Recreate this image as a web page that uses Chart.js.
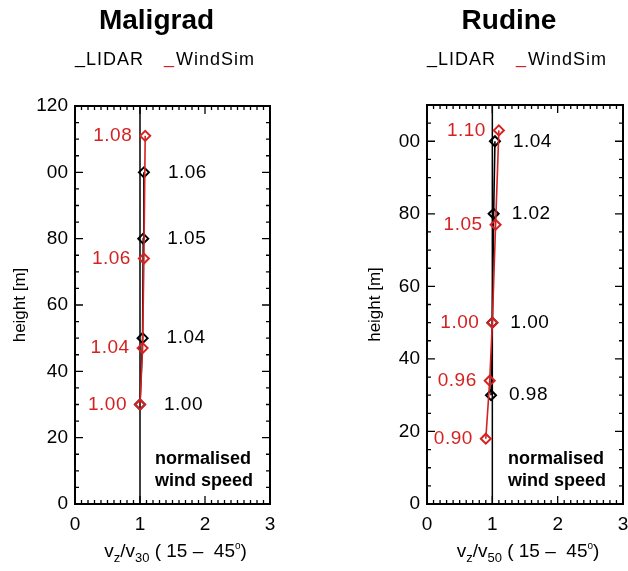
<!DOCTYPE html>
<html>
<head>
<meta charset="utf-8">
<script src="https://cdn.jsdelivr.net/npm/chart.js@4.4.0/dist/chart.umd.min.js"></script>
<style>
html, body { margin: 0; padding: 0; background: #fff; overflow: hidden; }
#wrap { position: relative; width: 628px; height: 571px; overflow: hidden; }
canvas { position: absolute; top: 0; }
#c1 { left: 0; }
#c2 { left: 314px; }
</style>
</head>
<body>
<div id="wrap">
<canvas id="c1" width="314" height="571"></canvas>
<canvas id="c2" width="330" height="571"></canvas>
</div>
<script>
// Maligrad
var maliLidarH = [30, 50, 80, 100];
var maliLidarV = [1.00, 1.04, 1.05, 1.06];
var maliSimH = [30, 47, 74, 111];
var maliSimV = [1.00, 1.04, 1.06, 1.08];

// Rudine
var rudLidarH = [30, 50, 80, 100];
var rudLidarV = [0.98, 1.00, 1.02, 1.04];
var rudSimH = [18, 34, 50, 77, 103];
var rudSimV = [0.90, 0.96, 1.00, 1.05, 1.10];

// axes
var xTickVals = [0, 1, 2, 3];
var maliYTicks = ['0', '20', '40', '60', '80', '00', '120'];
var rudYTicks = ['0', '20', '40', '60', '80', '00'];

var RED = '#d42222';
var FONT = '"Liberation Sans", Arial, Helvetica, sans-serif';

function pts(v, h) {
    return v.map(function (x, i) { return { x: x, y: h[i] }; });
}

// draws frame, inward ticks, titles, value labels
var deco = {
    id: 'deco',
    afterDraw: function (chart) {
        var o = chart.options.plugins.deco;
        var ctx = chart.ctx;
        var a = chart.chartArea;
        var xs = chart.scales.x, ys = chart.scales.y;
        ctx.save();

        // frame
        ctx.strokeStyle = '#000';
        ctx.lineWidth = 2;
        ctx.strokeRect(a.left, a.top, a.right - a.left, a.bottom - a.top);

        // ticks, all four sides, pointing in
        ctx.lineWidth = 1.3;
        ctx.beginPath();
        for (var i = 0; i <= 30; i++) {
            var px = xs.getPixelForValue(i / 10);
            var len = (i % 10 === 0) ? 8 : 4;
            ctx.moveTo(px, a.bottom); ctx.lineTo(px, a.bottom - len);
            ctx.moveTo(px, a.top); ctx.lineTo(px, a.top + len);
        }
        for (var j = 0; j <= o.ymax; j += 5) {
            var py = ys.getPixelForValue(j);
            var l2 = (j % 20 === 0) ? 8 : 4;
            ctx.moveTo(a.left, py); ctx.lineTo(a.left + l2, py);
            ctx.moveTo(a.right, py); ctx.lineTo(a.right - l2, py);
        }
        ctx.stroke();

        // title
        ctx.fillStyle = '#000';
        ctx.textAlign = 'center';
        ctx.textBaseline = 'middle';
        ctx.font = 'bold 28px ' + FONT;
        ctx.fillText(o.title, (a.left + a.right) / 2 - 16, 21);

        // legend
        ctx.textAlign = 'left';
        ctx.font = '18px ' + FONT;
        ctx.letterSpacing = '1px';
        ctx.fillText('_', a.left, 58);
        ctx.fillText('LIDAR', a.left + 11, 60);
        ctx.fillStyle = RED;
        ctx.fillText('_', a.left + 89, 58);
        ctx.fillStyle = '#000';
        ctx.fillText('WindSim', a.left + 101, 60);

        // value labels
        ctx.font = '19px ' + FONT;
        ctx.letterSpacing = '0.5px';
        ctx.textBaseline = 'middle';
        ctx.textAlign = 'left';
        ctx.fillStyle = '#000';
        o.lidarV.forEach(function (v, k) {
            ctx.fillText(v.toFixed(2), xs.getPixelForValue(v) + o.labGap, ys.getPixelForValue(o.lidarH[k]));
        });
        ctx.textAlign = 'right';
        ctx.fillStyle = RED;
        o.simV.forEach(function (v, k) {
            ctx.fillText(v.toFixed(2), xs.getPixelForValue(v) - 13, ys.getPixelForValue(o.simH[k]));
        });
        ctx.letterSpacing = '0px';

        // note
        ctx.fillStyle = '#000';
        ctx.textAlign = 'left';
        ctx.font = 'bold 18px ' + FONT;
        ctx.fillText('normalised', a.right - 115, 459);
        ctx.fillText('wind speed', a.right - 115, 481);

        // y axis title
        ctx.save();
        ctx.translate(a.left - o.yTitleGap, (a.top + a.bottom) / 2);
        ctx.rotate(-Math.PI / 2);
        ctx.textAlign = 'center';
        ctx.font = '17px ' + FONT;
        ctx.fillText('height [m]', 0, 0);
        ctx.restore();

        // x axis title with subscripts
        var parts = [
            ['v', 0], ['z', 1], ['/v', 0], [o.ref, 1], [' ( 15 \u2013  45', 0], ['o', 2], [')', 0]
        ];
        var fonts = ['19px ' + FONT, '13px ' + FONT, '10px ' + FONT];
        var shift = [0, 5, -8];
        var w = 0;
        parts.forEach(function (p) { ctx.font = fonts[p[1]]; w += ctx.measureText(p[0]).width; });
        var x0 = (a.left + a.right) / 2 + 3 - w / 2;
        ctx.textBaseline = 'alphabetic';
        ctx.textAlign = 'left';
        parts.forEach(function (p) {
            ctx.font = fonts[p[1]];
            ctx.fillText(p[0], x0, 557 + shift[p[1]]);
            x0 += ctx.measureText(p[0]).width;
        });

        ctx.restore();
    }
};

function makePanel(id, title, ref, lidarH, lidarV, simH, simV, yTicks, ymax, pad, yTitleGap, labGap) {
    var ctx = document.getElementById(id).getContext('2d');
    return new Chart(ctx, {
        type: 'scatter',
        data: {
            datasets: [{
                label: 'WindSim',
                data: pts(simV, simH),
                showLine: true,
                borderColor: RED,
                borderWidth: 1.6,
                pointStyle: 'rectRot',
                pointRadius: 5,
                pointBorderWidth: 2,
                pointBorderColor: RED,
                pointBackgroundColor: 'rgba(0,0,0,0)'
            }, {
                label: 'LIDAR',
                data: pts(lidarV, lidarH),
                showLine: true,
                borderColor: '#000',
                borderWidth: 1.6,
                pointStyle: 'rectRot',
                pointRadius: 5,
                pointBorderWidth: 2,
                pointBorderColor: '#000',
                pointBackgroundColor: 'rgba(0,0,0,0)'
            }, {
                label: 'ref',
                data: [{ x: 1, y: 0 }, { x: 1, y: ymax }],
                showLine: true,
                borderColor: '#000',
                borderWidth: 1.5,
                pointRadius: 0
            }]
        },
        options: {
            responsive: false,
            animation: false,
            layout: { padding: pad },
            plugins: {
                legend: { display: false },
                tooltip: { enabled: false },
                deco: {
                    title: title, ref: ref, ymax: ymax, yTitleGap: yTitleGap, labGap: labGap,
                    lidarH: lidarH, lidarV: lidarV, simH: simH, simV: simV
                }
            },
            scales: {
                x: {
                    type: 'linear', min: 0, max: 3,
                    grid: { display: false, drawTicks: false },
                    border: { display: false },
                    afterBuildTicks: function (s) {
                        s.ticks = xTickVals.map(function (v) { return { value: v }; });
                    },
                    ticks: {
                        padding: 9, color: '#000', font: { size: 19, family: FONT },
                        maxRotation: 0, autoSkip: false,
                        callback: function (v) { return String(v); }
                    },
                    afterFit: function (s) {
                        s.height = 67; s.paddingLeft = 0; s.paddingRight = 0;
                    }
                },
                y: {
                    type: 'linear', min: 0, max: ymax,
                    grid: { display: false, drawTicks: false },
                    border: { display: false },
                    ticks: {
                        stepSize: 20, padding: 7, color: '#000',
                        font: { size: 19, family: FONT },
                        callback: function (v) { return yTicks[v / 20]; }
                    },
                    afterFit: function (s) {
                        s.width = pad.yw; s.paddingTop = 0; s.paddingBottom = 0;
                    }
                }
            }
        },
        plugins: [deco]
    });
}

makePanel('c1', 'Maligrad', '30', maliLidarH, maliLidarV, maliSimH, maliSimV,
    maliYTicks, 120, { left: 0, right: 44, top: 106, bottom: 0, yw: 75 }, 55, 24);
makePanel('c2', 'Rudine', '50', rudLidarH, rudLidarV, rudSimH, rudSimV,
    rudYTicks, 110, { left: 0, right: 21, top: 105, bottom: 0, yw: 113 }, 52, 18);
</script>
</body>
</html>
